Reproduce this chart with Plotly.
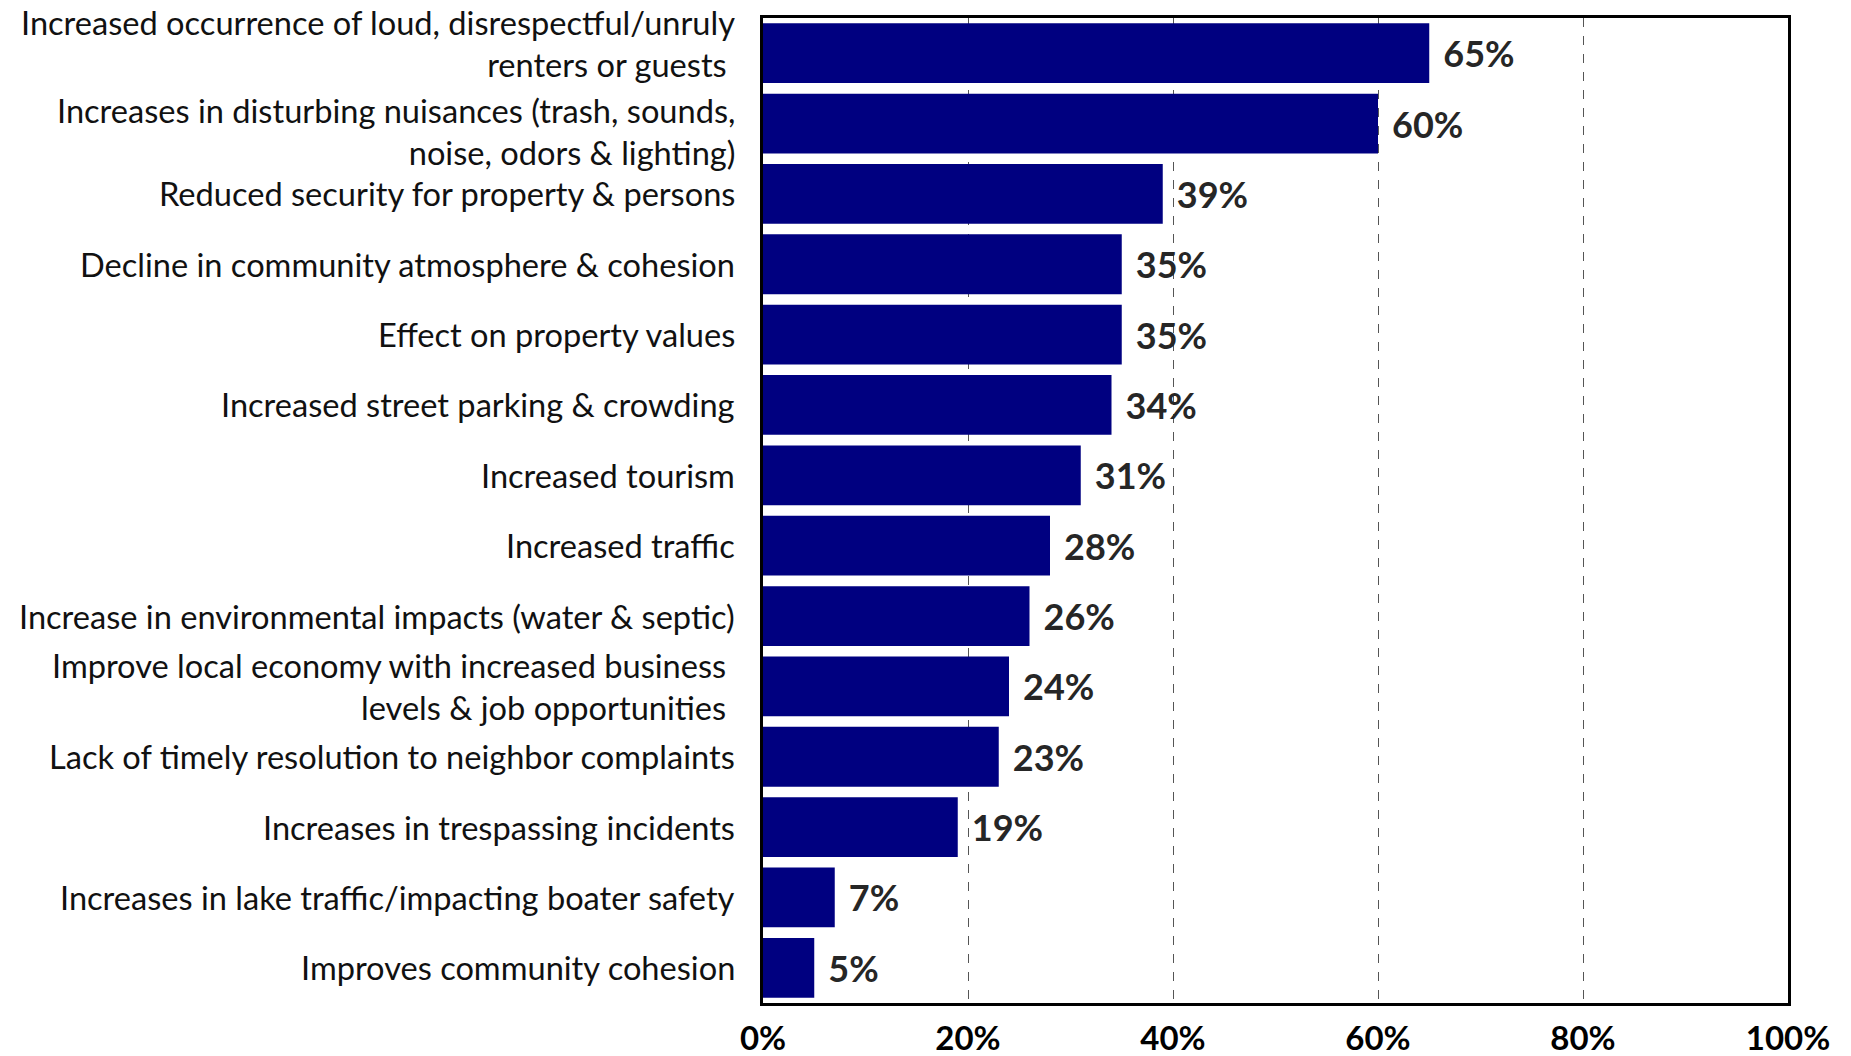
import plotly.graph_objects as go

# Survey responses, top to bottom
categories = [
    "Increased occurrence of loud, disrespectful/unruly<br>renters or guests\u00a0",
    "Increases in disturbing nuisances (trash, sounds,<br>noise, odors & lighting)",
    "Reduced security for property & persons",
    "Decline in community atmosphere & cohesion",
    "Effect on property values",
    "Increased street parking & crowding",
    "Increased tourism",
    "Increased traffic",
    "Increase in environmental impacts (water & septic)",
    "Improve local economy with increased business\u00a0<br>levels & job opportunities\u00a0",
    "Lack of timely resolution to neighbor complaints",
    "Increases in trespassing incidents",
    "Increases in lake traffic/impacting boater safety",
    "Improves community cohesion",
]
percent = [65, 60, 39, 35, 35, 34, 31, 28, 26, 24, 23, 19, 7, 5]

tick_vals = [0, 20, 40, 60, 80, 100]
tick_text = ["0%", "20%", "40%", "60%", "80%", "100%"]

label_font = "Lato, 'Open Sans', sans-serif"

fig = go.Figure(
    go.Bar(
        y=categories,
        x=percent,
        orientation="h",
        marker=dict(color="#000080", line=dict(width=0)),
        width=0.85,
        text=[f"\u00a0\u200a{v}%" for v in percent],
        textposition="outside",
        textfont=dict(family=label_font, size=36, color="#262626", weight="bold"),
        cliponaxis=False,
    )
)

# Category labels drawn as right-aligned annotations so the two-line
# labels at the top can be spread apart and stay readable.
label_nudge = {0: 10, 1: -8}
for i, cat in enumerate(categories):
    fig.add_annotation(
        x=0,
        xref="paper",
        y=cat,
        yref="y",
        text=cat,
        showarrow=False,
        xanchor="right",
        yanchor="middle",
        align="right",
        xshift=-26,
        yshift=label_nudge.get(i, 0),
        font=dict(family=label_font, size=32.6, color="#111111"),
    )

fig.update_layout(
    width=1851,
    height=1056,
    margin=dict(l=763, r=63, t=18, b=53),
    paper_bgcolor="white",
    plot_bgcolor="white",
    showlegend=False,
    bargap=0.15,
    font=dict(family=label_font),
)

fig.update_xaxes(
    range=[0, 100],
    tickvals=tick_vals,
    ticktext=tick_text,
    tickfont=dict(family=label_font, size=33, color="#000000", weight="bold"),
    showgrid=True,
    gridcolor="#555555",
    gridwidth=1,
    griddash="dash",
    showline=True,
    linecolor="black",
    linewidth=3,
    mirror=True,
    ticks="",
    ticklabelstandoff=4,
    zeroline=False,
    automargin=False,
    fixedrange=True,
)

fig.update_yaxes(
    autorange="reversed",
    showticklabels=False,
    showline=True,
    linecolor="black",
    linewidth=3,
    mirror=True,
    ticks="",
    showgrid=False,
    automargin=False,
    fixedrange=True,
)

fig.write_html("out.html")
